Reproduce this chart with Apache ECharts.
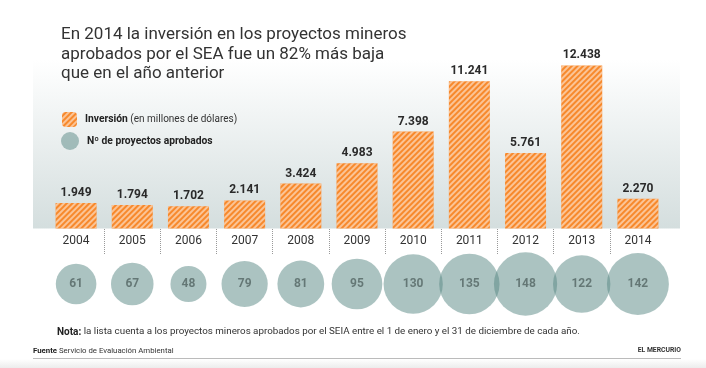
<!DOCTYPE html>
<html>
<head>
<meta charset="utf-8">
<script src="https://cdn.jsdelivr.net/npm/echarts@6/dist/echarts.min.js"></script>
<style>html,body{margin:0;padding:0;background:#fff}#c{width:706px;height:368px}</style>
</head>
<body>
<div id="c"></div>
<script>
const years = ['2004','2005','2006','2007','2008','2009','2010','2011','2012','2013','2014'];
const inversion = [1949,1794,1702,2141,3424,4983,7398,11241,5761,12438,2270];
const proyectos = [61,67,48,79,81,95,130,135,148,122,142];

const FONT = 'Roboto';
const fmt = n => String(n).replace(/\B(?=(\d{3})+(?!\d))/g, '.');

const legendText = {
  fontFamily: FONT, fontSize: 10, color: '#222',
  rich: {
    b: {fontFamily: FONT, fontSize: 10.3, fontWeight: 'bold', color: '#222', padding: [0,0,0,3]},
    r: {fontFamily: FONT, fontSize: 10, color: '#333'}
  }
};

const chart = echarts.init(document.getElementById('c'), null, {renderer: 'canvas'});
chart.setOption({
  animation: false,
  backgroundColor: '#ffffff',
  title: {
    text: 'En 2014 la inversión en los proyectos mineros\naprobados por el SEA fue un 82% más baja\nque en el año anterior',
    left: 56, top: 20,
    textStyle: {fontFamily: FONT, fontSize: 17, fontWeight: 'normal', color: '#333', lineHeight: 19.5}
  },
  legend: [
    {orient: 'vertical', left: 57, top: 107, itemWidth: 15, itemHeight: 15,
     data: ['Inversión'],
     formatter: () => '{b|Inversión} {r|(en millones de dólares)}',
     textStyle: legendText},
    {orient: 'vertical', left: 56, top: 127, itemWidth: 18, itemHeight: 18,
     data: ['Nº de proyectos aprobados'],
     formatter: name => '{b|' + name + '}',
     textStyle: legendText}
  ],
  graphic: [
    {type: 'rect', z: -10, silent: true, shape: {x: 33, y: 60, width: 647, height: 168.5},
     style: {fill: new echarts.graphic.LinearGradient(0,0,0,1,[{offset:0,color:'#ffffff'},{offset:1,color:'#d4dede'}])}},
    {type: 'rect', z: -10, silent: true, shape: {x: 0, y: 359, width: 706, height: 9},
     style: {fill: new echarts.graphic.LinearGradient(0,0,0,1,[{offset:0,color:'#ffffff'},{offset:1,color:'#ececec'}])}},
    {type: 'line', silent: true, shape: {x1: 33, y1: 358.5, x2: 681, y2: 358.5}, style: {stroke: '#bbbbbb', lineWidth: 1}},
    {type: 'text', left: 57, top: 327, silent: true,
     style: {text: '{b|Nota:} la lista cuenta a los proyectos mineros aprobados por el SEIA entre el 1 de enero y el 31 de diciembre de cada año.',
       fontFamily: FONT, fontSize: 9.8, fill: '#333',
       rich: {b: {fontFamily: FONT, fontSize: 10, fontWeight: 'bold', fill: '#222'}}}},
    {type: 'text', left: 33, top: 347, silent: true,
     style: {text: '{b|Fuente} Servicio de Evaluación Ambiental',
       fontFamily: FONT, fontSize: 7.8, fill: '#333',
       rich: {b: {fontFamily: FONT, fontSize: 7.8, fontWeight: 'bold', fill: '#222'}}}},
    {type: 'text', right: 25, top: 347, silent: true,
     style: {text: 'EL MERCURIO', fontFamily: FONT, fontSize: 6.8, fontWeight: 'bold', fill: '#333'}}
  ],
  grid: [
    {left: 48, right: 40, top: 45, height: 183.5},
    {left: 48, right: 40, top: 229, height: 26},
    {left: 48, right: 40, top: 254, height: 60}
  ],
  xAxis: [
    {gridIndex: 0, type: 'category', data: years, axisLine: {show: false}, axisTick: {show: false},
     axisLabel: {margin: 6, fontFamily: FONT, fontSize: 12, color: '#333'}},
    {gridIndex: 1, type: 'category', data: years, axisLine: {show: false}, axisTick: {show: false}, axisLabel: {show: false},
     splitLine: {show: true, showMinLine: false, showMaxLine: false, lineStyle: {type: 'dotted', color: '#999', width: 1}}},
    {gridIndex: 2, type: 'category', data: years, show: false}
  ],
  yAxis: [
    {gridIndex: 0, type: 'value', min: 0, max: 14000, show: false, splitLine: {show: false}},
    {gridIndex: 1, type: 'value', show: false, splitLine: {show: false}},
    {gridIndex: 2, type: 'category', data: ['n'], show: false}
  ],
  series: [
    {
      name: 'Inversión', type: 'bar', xAxisIndex: 0, yAxisIndex: 0, data: inversion, barWidth: 41,
      itemStyle: {color: '#f7892c', decal: {symbol: 'rect', symbolSize: 1, dashArrayX: [1, 0], dashArrayY: [1.3, 2], rotation: -Math.PI / 4, color: 'rgba(255,255,255,0.5)'}},
      label: {show: true, position: 'top', distance: 4, formatter: p => fmt(p.value),
        fontFamily: FONT, fontSize: 12, fontWeight: 'bold', color: '#2a2a2a'}
    },
    {
      name: 'Nº de proyectos aprobados', type: 'scatter', xAxisIndex: 2, yAxisIndex: 2,
      data: proyectos.map((v, i) => [years[i], 'n', v]),
      symbolSize: v => 5.2 * Math.sqrt(v[2]),
      itemStyle: {color: '#578783', opacity: 0.5},
      label: {show: true, position: 'inside', formatter: p => p.value[2],
        fontFamily: FONT, fontSize: 12, fontWeight: 'bold', color: '#1e2b2a'}
    }
  ]
});
</script>
</body>
</html>
